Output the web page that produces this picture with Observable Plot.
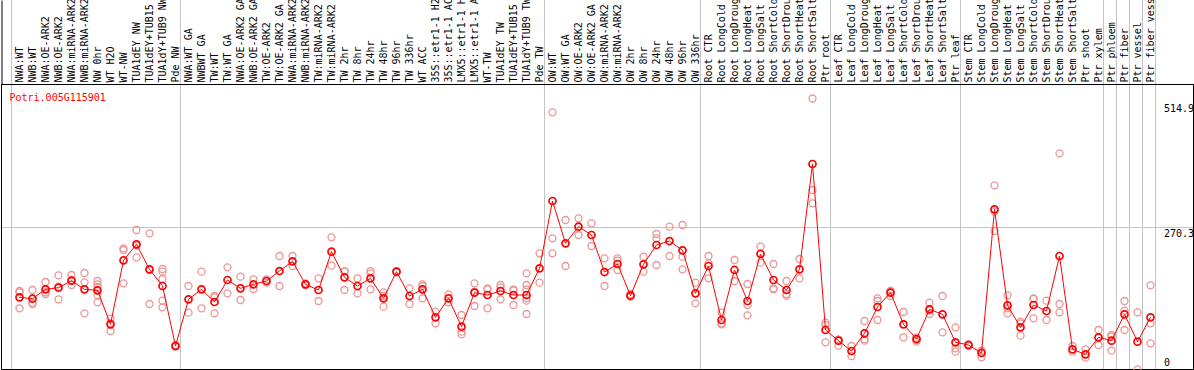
<!DOCTYPE html>
<html>
<head>
<meta charset="utf-8">
<script src="https://cdn.jsdelivr.net/npm/d3@7"></script>
<script src="https://cdn.jsdelivr.net/npm/@observablehq/plot@0.6"></script>
<style>
  html, body { margin: 0; padding: 0; background: #fff; }
  #chart svg { display: block; }
</style>
</head>
<body>
<div id="chart"></div>
<script>
const geneId = "Potri.005G115901";

const categories = [
  "NWA:WT","NWB:WT","NWA:OE-ARK2","NWB:OE-ARK2","NWA:miRNA-ARK2","NWB:miRNA-ARK2","NW 0hr","WT H2O","WT-NW","TUA1dEY NW","TUA1dEY+TUB15 NW","TUA1dY+TUB9 NW","Pde NW",
  "NWA:WT GA","NWBWT GA","TW:WT","TW:WT GA","NWA:OE-ARK2 GA","NWB:OE-ARK2 GA","TW:OE-ARK2","TW:OE-ARK2 GA","NWA:miRNA-ARK2 GA","NWB:miRNA-ARK2 GA","TW:miRNA-ARK2","TW:miRNA-ARK2 GA","TW 2hr","TW 8hr","TW 24hr","TW 48hr","TW 96hr","TW 336hr","WT ACC","35S::etr1-1 H2O","35S::etr1-1 ACC","LMX5::etr1-1 H2O","LMX5::etr1-1 ACC","WT-TW","TUA1dEY TW","TUA1dEY+TUB15 TW","TUA1dY+TUB9 TW","Pde TW",
  "OW:WT","OW:WT GA","OW:OE-ARK2","OW:OE-ARK2 GA","OW:miRNA-ARK2","OW:miRNA-ARK2 GA","OW 2hr","OW 8hr","OW 24hr","OW 48hr","OW 96hr","OW 336hr",
  "Root CTR","Root LongCold","Root LongDrought","Root LongHeat","Root LongSalt","Root ShortCold","Root ShortDrought","Root ShortHeat","Root ShortSalt","Ptr root",
  "Leaf CTR","Leaf LongCold","Leaf LongDrought","Leaf LongHeat","Leaf LongSalt","Leaf ShortCold","Leaf ShortDrought","Leaf ShortHeat","Leaf ShortSalt","Ptr leaf",
  "Stem CTR","Stem LongCold","Stem LongDrought","Stem LongHeat","Stem LongSalt","Stem ShortCold","Stem ShortDrought","Stem ShortHeat","Stem ShortSalt","Ptr shoot","Ptr xylem",
  "Ptr phloem","Ptr fiber","Ptr vessel","Ptr fiber vessel"
];

const means = [
  137.8,135.3,153,156.1,169.4,153,151.1,86.6,208,238.3,190.9,159.3,45.5,
  134,153,129,170.7,154.9,162.5,168.8,187.7,206.1,162.5,151.7,224.4,175.7,159.3,173.8,135.9,186.5,140.3,153,99.9,135.9,82.2,146.7,142.2,149.8,142.2,142.2,192.8,
  320.5,240.2,271.8,256,185.8,201,141,200.4,237.1,244.6,227,145.4,
  197.2,94.8,189.7,130.9,220,170.7,151.7,190.9,390.7,75.9,
  55.6,36,69.5,119.5,146.7,86.6,58.8,115,105.6,52.5,
  47.4,32.2,304.7,122.6,80.9,123.3,111.9,216.2,39.2,29.7,62,
  55.6,105.6,53.7,99.9
];

const replicates = [
  [149.8,147.3,117],[151.7,127.7,125.2],[166.9,147.3,144.1],[179.5,158,134],[180.2,170.7,161.2],[184,166.3,107.5],[168.8,162.5,157.4,142.2,128.3],[97.4,88.5,74],[230.7,227.6,164.4],[265.5,213.7,236],[259.2,125.2,190],[191.5,186.5,172.6,131.5,118.8],[47.4,44.3],
  [159.3,108.7],[186.5,117],[140.3,137.8,107.5],[194.7,145.4],[177,132.8],[172,153.6],[172,165.6],[216.2,159.3],[216.2,197.2],[164.4,160.6],[173.8,130.9],[251.6,197.9],[187.7,186.5,151.7],[173.8,145.4],[187.7,183.3,153],[147.3,140.3,120.1],[187.7,185.2],[154.9,125.2],[162.5,159.3,135.9],[110.6,88.5],[143.5,128.3],[104.3,72.7,67.6],[164.4,148.6,121.4],[154.9,153,117],[161.2,156.8,134],[153,150.4,123.3],[183.3,161.2,153,135.9,131.5,106.2],[221.3,165.6],
  [488.6,249.7,221.3],[284.5,197.2],[287.6,256],[278.1,235.2],[211.8,159.3],[211.8,207.3,189.7],[144.1,141,139.1],[214.9,186.5],[257.9,249.7,199.1],[271.8,216.2],[275,214.9,190.9],[165.6,145.4,126.4],
  [216.2,202.3,173.8],[108.7,88.5,86.6],[208.6,168.8],[163.1,123.3,103.7],[233.9,221.2,203.6],[201,154.9,153],[168.8,144.1,141],[210.5,173.8],[514.9,341.4,316.1],[89.8,85.3,52.5],
  [58.2,55.6,46.1],[45.5,26.5],[92.9,58.2,55.6],[135.9,130.9,94.8],[150.5,148.6,140.3],[110,62],[61.3,56.9,53.7],[127.7,112.5,106.2],[140.3,71.4],[80.9,41.1,34.8],
  [49,45.5],[36.7,34.8,24],[350.2,300.3,263.6],[141.6,117,107.5],[91.7,88.5,65.1],[135.9,134.7,98],[131.5,94.8],[410.9,125.2,109.4],[45.5,34.8],[39.2,23.4],[75.9,47.4],
  [66.4,63.2,36.7],[130.9,112.5,75.9],[109.4,1.3],[160.6,88.5,50.6]
];

// indices where a new sample group begins (plus the end)
const groupBreaks = [0,13,41,53,63,73,84,85,86,87,88];
const tickValues = [0, 270.3, 514.9];
const tickLabels = ["0", "270.3", "514.9"];
const gridValues = [270.3];
const yMax = 514.9;

const rows = categories.map((label, i) => ({i, label, mean: means[i]}));
const reps = replicates.flatMap((arr, i) => arr.map(v => ({i, v})));

const font = "'DejaVu Sans Mono', 'Liberation Mono', monospace";
const tickDy = [-7, 6, 10];

const chart = Plot.plot({
  width: 1194,
  height: 370,
  marginTop: 0, marginRight: 0, marginBottom: 0, marginLeft: 0,
  x: {type: "linear", domain: [0, categories.length - 1], range: [19, 1150], axis: null},
  y: {domain: [0, yMax], range: [369.5, 98], axis: null},
  style: {fontFamily: font, fontSize: "10px", background: "white", overflow: "hidden"},
  marks: [
    Plot.ruleX(groupBreaks, {x: d => d - 0.5, dx: -1.5, stroke: "#c4c4c4", strokeWidth: 1}),
    Plot.ruleY(gridValues, {stroke: "#c4c4c4", strokeWidth: 1}),
    Plot.frame({insetTop: 84, insetLeft: 1, insetRight: 1, insetBottom: 1, stroke: "black"}),
    Plot.frame({insetLeft: 1, insetRight: 1192, insetBottom: 286, stroke: null, fill: "black"}),
    Plot.text(rows, {
      x: "i", text: "label", frameAnchor: "top", dy: 82,
      rotate: -90, textAnchor: "start", lineAnchor: "middle",
      fill: "black", fontSize: 10, fontFamily: font
    }),
    Plot.text([geneId], {
      text: d => d, frameAnchor: "top-left", dx: 9, dy: 97,
      textAnchor: "start", lineAnchor: "middle", fill: "red", fontSize: 10, fontFamily: font
    }),
    ...tickValues.map((v, k) => Plot.text([v], {
      y: d => d, text: () => tickLabels[k], frameAnchor: "right", dx: -30.5, dy: tickDy[k],
      textAnchor: "start", lineAnchor: "middle", fill: "black", fontSize: 10, fontFamily: font
    })),
    Plot.dot(reps, {x: "i", y: "v", r: 3.5, stroke: "#eb9696", strokeWidth: 1.3, fill: "none"}),
    Plot.line(rows, {x: "i", y: "mean", stroke: "#ff0000", strokeWidth: 1}),
    Plot.dot(rows, {x: "i", y: "mean", r: 3.5, stroke: "#ff0000", strokeWidth: 1.7, fill: "none"})
  ]
});

document.getElementById("chart").appendChild(chart);
</script>
</body>
</html>
